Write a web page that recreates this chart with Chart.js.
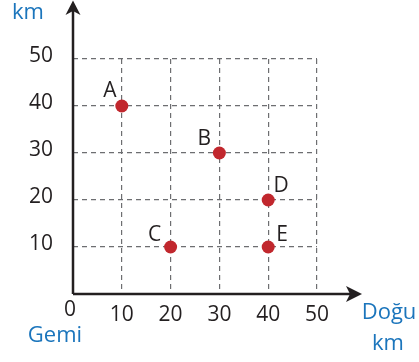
<!DOCTYPE html>
<html>
<head>
<meta charset="utf-8">
<script src="https://cdn.jsdelivr.net/npm/chart.js@4"></script>
<style>
  html, body { margin: 0; padding: 0; background: #fff; }
  #wrap { width: 419px; height: 362px; }
</style>
</head>
<body>
<div id="wrap"><canvas id="chart" width="419" height="362"></canvas></div>
<script>
// points on the map (east km, north km)
const names = ['A', 'B', 'C', 'D', 'E'];
const eastKm = [10, 30, 20, 40, 40];
const northKm = [40, 30, 10, 20, 10];
const axisMax = 50;
const tickStep = 10;

// where each letter sits next to its dot (pixels)
const labelOffsets = [[-12, -15], [-15, -14], [-16, -12], [13, -14], [14, -12]];

const dark = '#231f20';
const blue = '#1b75bc';
const red = '#c1272d';
const fontFamily = '"Open Sans", sans-serif';

const extras = {
    id: 'extras',
    afterDraw(chart) {
        const { ctx, scales: { x, y } } = chart;
        const x0 = x.getPixelForValue(0);
        const y0 = y.getPixelForValue(0);
        ctx.save();

        // axes with arrow heads
        ctx.strokeStyle = dark;
        ctx.fillStyle = dark;
        ctx.lineWidth = 2.5;
        ctx.beginPath();
        ctx.moveTo(x0, y0);
        ctx.lineTo(352, y0);
        ctx.moveTo(x0, y0);
        ctx.lineTo(x0, 8);
        ctx.stroke();

        ctx.beginPath();
        ctx.moveTo(362, y0);
        ctx.lineTo(346, y0 - 8);
        ctx.lineTo(350, y0);
        ctx.lineTo(346, y0 + 8);
        ctx.closePath();
        ctx.fill();

        ctx.beginPath();
        ctx.moveTo(x0, 0.5);
        ctx.lineTo(x0 - 7.5, 15);
        ctx.lineTo(x0, 11);
        ctx.lineTo(x0 + 7.5, 15);
        ctx.closePath();
        ctx.fill();

        ctx.textAlign = 'center';
        ctx.textBaseline = 'middle';

        // origin label
        ctx.font = '21px ' + fontFamily;
        ctx.fillText('0', x0 - 3, y0 + 16);

        // point letters
        ctx.font = '21px ' + fontFamily;
        const meta = chart.getDatasetMeta(0);
        meta.data.forEach((pt, i) => {
            ctx.fillText(names[i], pt.x + labelOffsets[i][0], pt.y + labelOffsets[i][1]);
        });

        // axis titles
        ctx.fillStyle = blue;
        ctx.font = '22px ' + fontFamily;
        ctx.fillText('km', 28, 13);
        ctx.fillText('Gemi', 55, 336);
        ctx.fillText('Doğu', 389, 313);
        ctx.fillText('km', 388, 344);

        ctx.restore();
    }
};

const gridColor = c => (c.tick && c.tick.value === 0) ? 'rgba(0,0,0,0)' : '#6d6e71';

const config = {
    type: 'scatter',
    data: {
        datasets: [{
            data: eastKm.map((v, i) => ({ x: v, y: northKm[i] })),
            backgroundColor: red,
            borderWidth: 0,
            pointRadius: 6.5,
            pointHoverRadius: 6.5
        }]
    },
    options: {
        responsive: false,
        animation: false,
        layout: {
            padding: { top: 59, right: 102, left: 0, bottom: 0 }
        },
        plugins: {
            legend: { display: false },
            tooltip: { enabled: false }
        },
        scales: {
            x: {
                type: 'linear',
                min: 0,
                max: axisMax,
                afterFit: s => { s.height = 68; },
                ticks: {
                    stepSize: tickStep,
                    padding: 8,
                    color: dark,
                    font: { family: fontFamily, size: 21 },
                    callback: v => v === 0 ? '' : v
                },
                grid: { color: gridColor, lineWidth: 1.2, drawTicks: false },
                border: { display: false, dash: [5, 4] }
            },
            y: {
                type: 'linear',
                min: 0,
                max: axisMax,
                afterFit: s => { s.width = 73; },
                ticks: {
                    stepSize: tickStep,
                    padding: 20,
                    labelOffset: -3,
                    color: dark,
                    font: { family: fontFamily, size: 21 },
                    callback: v => v === 0 ? '' : v
                },
                grid: { color: gridColor, lineWidth: 1.2, drawTicks: false },
                border: { display: false, dash: [5, 4] }
            }
        }
    },
    plugins: [extras]
};

new Chart(document.getElementById('chart'), config);
</script>
</body>
</html>
